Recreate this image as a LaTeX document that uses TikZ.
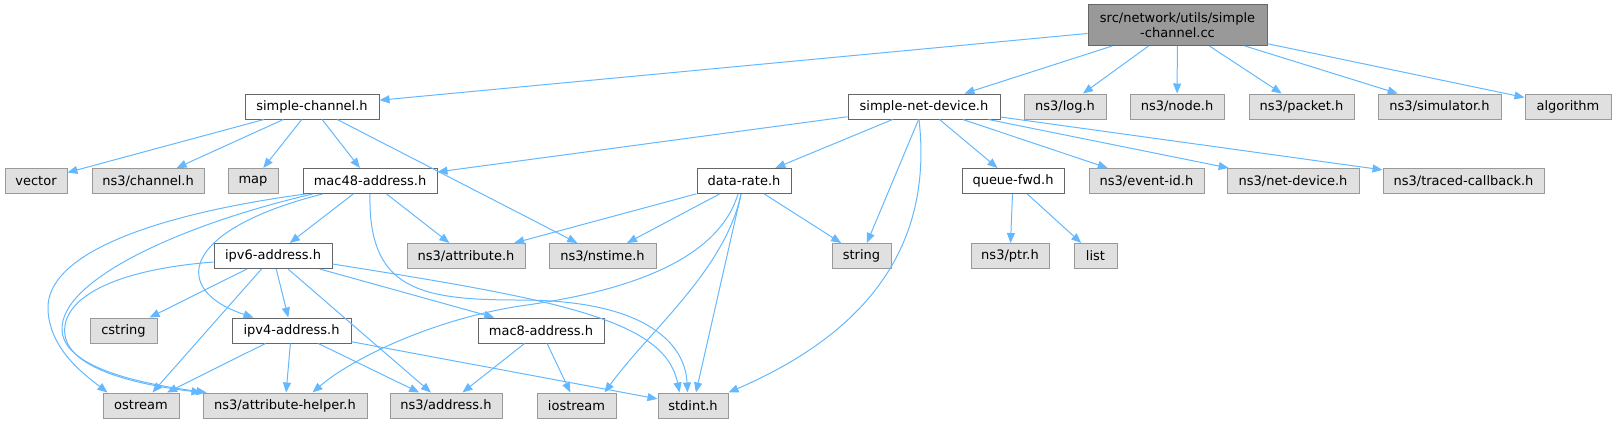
\documentclass[tikz,border=0pt]{standalone}
\usepackage{fontspec}
\setmainfont{DejaVu Sans}
\usetikzlibrary{arrows.meta}
\definecolor{edgeblue}{HTML}{63B8FF}
\definecolor{hdrfill}{HTML}{E0E0E0}
\definecolor{hdrline}{HTML}{999999}
\definecolor{fileline}{HTML}{666666}
\definecolor{rootfill}{HTML}{999999}

\begin{document}
\begin{tikzpicture}[x=1pt,y=-1pt,>={Triangle[length=10pt,width=8pt]},
  every node/.style={font=\fontsize{13}{15}\selectfont, inner sep=0pt, minimum height=25pt, line width=1pt},
  syshdr/.style={draw=hdrline, fill=hdrfill},
  localhdr/.style={draw=fileline, fill=white},
  mainfile/.style={draw=fileline, fill=rootfill, minimum height=41pt, align=center},
  dep/.style={->, draw=edgeblue, line width=1pt}]
\useasboundingbox (0,0) rectangle (1616,424);
\node[mainfile, minimum width=179pt] (root) at (1177.5,25) {src/network/utils/simple\\-channel.cc};
\node[localhdr, minimum width=134pt] (sch) at (312,106.5) {simple-channel.h};
\node[localhdr, minimum width=152pt] (snd) at (924,106.5) {simple-net-device.h};
\node[syshdr, minimum width=82pt] (log) at (1065,106.5) {ns3/log.h};
\node[syshdr, minimum width=94pt] (nodeh) at (1177,106.5) {ns3/node.h};
\node[syshdr, minimum width=105pt] (pkt) at (1301.5,106.5) {ns3/packet.h};
\node[syshdr, minimum width=123pt] (sim) at (1439.5,106.5) {ns3/simulator.h};
\node[syshdr, minimum width=86pt] (alg) at (1568,106.5) {algorithm};
\node[syshdr, minimum width=62pt] (vec) at (36,181) {vector};
\node[syshdr, minimum width=112pt] (chn) at (148,181) {ns3/channel.h};
\node[syshdr, minimum width=50pt] (map) at (253,181) {map};
\node[localhdr, minimum width=134pt] (m48) at (370,181) {mac48-address.h};
\node[localhdr, minimum width=94pt] (dr) at (744,181) {data-rate.h};
\node[localhdr, minimum width=102pt] (qf) at (1013,181) {queue-fwd.h};
\node[syshdr, minimum width=115pt] (eid) at (1146.5,181) {ns3/event-id.h};
\node[syshdr, minimum width=132pt] (nd) at (1293,181) {ns3/net-device.h};
\node[syshdr, minimum width=161pt] (tcb) at (1463.5,181) {ns3/traced-callback.h};
\node[localhdr, minimum width=118pt] (v6) at (273,256) {ipv6-address.h};
\node[syshdr, minimum width=118pt] (attr) at (466,256) {ns3/attribute.h};
\node[syshdr, minimum width=107pt] (nst) at (602.5,256) {ns3/nstime.h};
\node[syshdr, minimum width=59pt] (str) at (861.5,256) {string};
\node[syshdr, minimum width=78pt] (ptr) at (1010,256) {ns3/ptr.h};
\node[syshdr, minimum width=43pt] (lst) at (1095.5,256) {list};
\node[syshdr, minimum width=67pt] (cstr) at (123.5,330.5) {cstring};
\node[localhdr, minimum width=119pt] (v4) at (291.5,330.5) {ipv4-address.h};
\node[localhdr, minimum width=126pt] (m8) at (541,330.5) {mac8-address.h};
\node[syshdr, minimum width=76pt] (ost) at (141,405.5) {ostream};
\node[syshdr, minimum width=164pt] (ah) at (285,405.5) {ns3/attribute-helper.h};
\node[syshdr, minimum width=112pt] (addr) at (446,405.5) {ns3/address.h};
\node[syshdr, minimum width=79pt] (ios) at (576.5,405.5) {iostream};
\node[syshdr, minimum width=70pt] (sint) at (693,405.5) {stdint.h};
\draw[dep] (root) -- (sch);
\draw[dep] (root) -- (snd);
\draw[dep] (root) -- (log);
\draw[dep] (root) -- (nodeh);
\draw[dep] (root) -- (pkt);
\draw[dep] (root) -- (sim);
\draw[dep] (root) -- (alg);
\draw[dep] (sch) -- (vec);
\draw[dep] (sch) -- (chn);
\draw[dep] (sch) -- (map);
\draw[dep] (sch) -- (m48);
\draw[dep] (sch) -- (nst);
\draw[dep] (snd) -- (m48);
\draw[dep] (snd) -- (dr);
\draw[dep] (snd) -- (str);
\draw[dep] ([xshift=-5pt]snd.south) .. controls (935,260) and (850,340) .. (sint.north east);
\draw[dep] (snd) -- (qf);
\draw[dep] (snd) -- (eid);
\draw[dep] (snd) -- (nd);
\draw[dep] (snd) -- (tcb);
\draw[dep] (m48) -- (v6);
\draw[dep] (m48) -- (attr);
\draw[dep] ([xshift=3pt]m48.south west) .. controls (150,215) and (45,255) .. (48,310) .. controls (50,350) and (85,375) .. ([xshift=5pt]ost.north west);
\draw[dep] ([xshift=10pt]m48.south west) .. controls (180,225) and (60,280) .. (62,330) .. controls (64,370) and (150,385) .. ([xshift=4pt]ah.north west);
\draw[dep] ([xshift=20pt]m48.south west) .. controls (180,230) and (170,290) .. ([xshift=22pt]v4.north west);
\draw[dep] (m48.south) .. controls (368,290) and (420,300) .. (520,300) .. controls (640,300) and (685,340) .. ([xshift=30pt]sint.north west);
\draw[dep] ([yshift=-6pt]v6.west) .. controls (110,270) and (60,300) .. (65,335) .. controls (70,370) and (140,385) .. ([xshift=-1pt]ah.north west);
\draw[dep] (v6) -- (cstr);
\draw[dep] (v6) -- (ost);
\draw[dep] (v6) -- (v4);
\draw[dep] (v6) -- (addr);
\draw[dep] (v6) -- (m8);
\draw[dep] ([yshift=-8pt]v6.east) .. controls (560,300) and (665,320) .. ([xshift=22pt]sint.north west);
\draw[dep] (v4) -- (ost);
\draw[dep] (v4) -- (ah);
\draw[dep] (v4) -- (addr);
\draw[dep] (v4) -- (sint);
\draw[dep] (m8) -- (addr);
\draw[dep] (m8) -- (ios);
\draw[dep] (dr) -- (attr);
\draw[dep] (dr) -- (nst);
\draw[dep] ([xshift=-6pt]dr.south) .. controls (715,270) and (600,295) .. (520,306) .. controls (430,320) and (350,360) .. ([xshift=110pt]ah.north west);
\draw[dep] ([xshift=-3pt]dr.south) .. controls (725,270) and (650,330) .. ([xshift=-12pt]ios.north east);
\draw[dep] (dr) -- (sint);
\draw[dep] (dr) -- (str);
\draw[dep] (qf) -- (ptr);
\draw[dep] (qf) -- (lst);
\end{tikzpicture}
\end{document}
